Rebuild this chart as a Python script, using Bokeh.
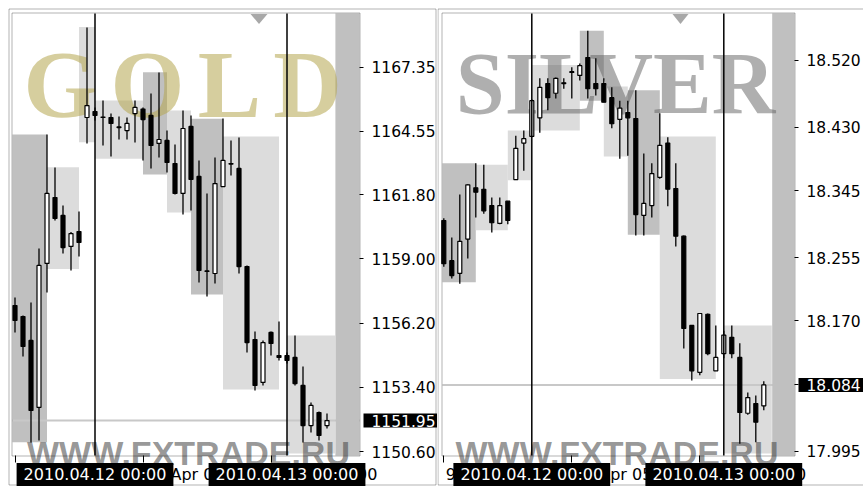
from bokeh.plotting import figure
from bokeh.layouts import row
from bokeh.models import (Range1d, LinearAxis, FixedTicker, PrintfTickFormatter,
                          Label, BoxAnnotation, PolyAnnotation, ColumnDataSource)
from bokeh.embed import file_html
from bokeh.resources import INLINE

# ---------------- GOLD, H1 bars ----------------
gold_idx = list(range(0, 40))
gold_open = [1156.96, 1156.48, 1155.44, 1152.52, 1158.80, 1161.67, 1160.89, 1159.54, 1160.19, 1165.16,
             1165.42, 1165.18, 1165.16, 1164.75, 1164.59, 1165.33, 1165.53, 1165.25, 1164.03, 1164.16,
             1163.15, 1161.85, 1164.77, 1162.59, 1158.47, 1158.36, 1162.15, 1163.15, 1162.94, 1158.66,
             1155.48, 1153.61, 1155.79, 1154.78, 1154.78, 1154.70, 1153.48, 1151.73, 1152.30, 1151.73]
gold_high = [1157.31, 1156.53, 1157.10, 1159.45, 1164.42, 1162.98, 1161.32, 1160.17, 1161.06, 1169.08,
             1165.60, 1165.90, 1165.33, 1165.20, 1165.16, 1165.90, 1165.60, 1166.21, 1167.12, 1164.59,
             1163.98, 1165.46, 1165.25, 1163.29, 1161.85, 1163.42, 1165.12, 1164.16, 1164.29, 1158.71,
             1155.83, 1155.44, 1155.83, 1156.27, 1154.92, 1155.66, 1154.31, 1152.74, 1152.34, 1152.26]
gold_low = [1155.79, 1154.74, 1150.99, 1151.08, 1157.53, 1160.67, 1159.23, 1158.49, 1159.10, 1164.03,
            1165.03, 1163.94, 1163.46, 1164.20, 1164.20, 1164.07, 1163.29, 1162.94, 1163.42, 1162.76,
            1161.80, 1160.93, 1161.11, 1157.97, 1157.36, 1157.92, 1162.15, 1162.63, 1158.36, 1154.92,
            1153.26, 1153.48, 1154.78, 1154.57, 1154.44, 1153.48, 1150.99, 1151.43, 1151.08, 1151.60]
gold_close = [1156.31, 1155.18, 1152.39, 1158.71, 1161.85, 1160.76, 1159.49, 1160.10, 1159.71, 1165.68,
              1165.25, 1165.16, 1164.90, 1164.72, 1164.90, 1165.60, 1165.07, 1163.94, 1164.20, 1163.20,
              1161.85, 1164.68, 1162.46, 1158.49, 1158.45, 1162.28, 1163.29, 1163.13, 1158.66, 1155.35,
              1153.48, 1155.35, 1155.31, 1154.70, 1154.57, 1153.56, 1151.73, 1152.61, 1151.30, 1151.95]
gold_box_x0 = [-1, 4, 8, 10, 16, 19, 22, 26, 34]
gold_box_x1 = [4, 8, 10, 16, 19, 22, 26, 33, 40]
gold_box_top = [1164.42, 1162.99, 1169.10, 1165.90, 1167.13, 1165.46, 1165.10, 1164.33, 1155.66]
gold_box_bot = [1151.00, 1158.56, 1164.08, 1163.36, 1162.67, 1161.02, 1157.44, 1153.30, 1150.51]
gold_box_dark = [1, 0, 0, 0, 1, 0, 1, 0, 0]
gold_ticks = [1150.60, 1153.40, 1156.20, 1159.00, 1161.80, 1164.55, 1167.35]
gold_last = 1151.95
gold_time_idx = [0, 16, 32]
gold_time_txt = ["9 Apr 15:00", "12 Apr 06:00", "12 Apr 22:00"]

# ---------------- SILVER, H1 bars ----------------
silver_idx = list(range(-1, 40))
silver_open = [18.305, 18.251, 18.234, 18.280, 18.349, 18.347, 18.325, 18.301, 18.331, 18.360,
               18.409, 18.418, 18.443, 18.489, 18.476, 18.490, 18.504, 18.500, 18.524, 18.489,
               18.489, 18.470, 18.441, 18.450, 18.442, 18.312, 18.325, 18.363, 18.409, 18.348,
               18.284, 18.164, 18.101, 18.179, 18.103, 18.126, 18.148, 18.121, 18.046, 18.059, 18.056]
silver_high = [18.308, 18.282, 18.340, 18.354, 18.382, 18.380, 18.336, 18.336, 18.331, 18.419,
               18.426, 18.468, 18.496, 18.496, 18.497, 18.496, 18.511, 18.516, 18.560, 18.523,
               18.496, 18.484, 18.466, 18.466, 18.480, 18.395, 18.382, 18.449, 18.417, 18.382,
               18.285, 18.164, 18.180, 18.180, 18.164, 18.157, 18.164, 18.140, 18.074, 18.070, 18.089]
silver_low = [18.243, 18.227, 18.220, 18.254, 18.309, 18.314, 18.289, 18.300, 18.300, 18.360,
              18.372, 18.417, 18.423, 18.453, 18.469, 18.482, 18.469, 18.493, 18.469, 18.473,
              18.464, 18.429, 18.388, 18.392, 18.285, 18.285, 18.309, 18.361, 18.324, 18.270,
              18.133, 18.090, 18.097, 18.124, 18.103, 18.120, 18.120, 18.005, 18.044, 18.007, 18.050]
silver_close = [18.247, 18.231, 18.277, 18.353, 18.343, 18.318, 18.302, 18.325, 18.305, 18.402,
                18.415, 18.466, 18.484, 18.470, 18.496, 18.489, 18.505, 18.513, 18.482, 18.482,
                18.464, 18.435, 18.456, 18.443, 18.313, 18.328, 18.368, 18.406, 18.347, 18.284,
                18.160, 18.103, 18.180, 18.126, 18.121, 18.151, 18.126, 18.047, 18.067, 18.034, 18.084]
silver_box_x0 = [-2, 3, 7, 10, 16, 19, 22, 26, 34]
silver_box_x1 = [3, 7, 10, 16, 19, 22, 26, 33, 40]
silver_box_top = [18.382, 18.380, 18.426, 18.514, 18.560, 18.485, 18.480, 18.418, 18.164]
silver_box_bot = [18.222, 18.292, 18.359, 18.426, 18.466, 18.391, 18.286, 18.092, 17.992]
silver_box_dark = [1, 0, 0, 0, 1, 0, 1, 0, 0]
silver_ticks = [17.995, 18.085, 18.170, 18.255, 18.345, 18.430, 18.520]
silver_last = 18.084
silver_time_idx = [-1, 15, 31]
silver_time_txt = ["9 Apr 14:00", "12 Apr 05:00", "12 Apr 21:00"]

day_idx = [10, 34]
day_txt = ["2010.04.12 00:00", "2010.04.13 00:00"]

FIG_H = 487
AXFONT = "DejaVu Sans"
SERIF = "Liberation Serif"
SANS = "Liberation Sans"


def make_panel(page_left, width, bar0_px, ref_px, ref_price, px_per_unit, area,
               idx, o, h, l, c, bx0, bx1, btop, bbot, bdark, ticks, fmt, last, last_txt,
               t_idx, t_txt, show_time, wm, tri, border_right):
    # page pixel <-> data helpers (the frame covers the whole canvas)
    def X(px):
        return (px - bar0_px) / 8.0

    def Y(py):
        return ref_price + (ref_px - py) / px_per_unit

    aL, aR, aT, aB = area   # plot-area edges in page pixels
    p = figure(width=width, height=FIG_H,
               x_range=Range1d(X(page_left), X(page_left + width)),
               y_range=Range1d(Y(FIG_H), Y(0)),
               output_backend="svg", toolbar_location=None, title=None,
               x_axis_location=None, y_axis_location=None,
               min_border_left=0, min_border_right=0, min_border_top=0, min_border_bottom=0,
               background_fill_color="white", border_fill_color="white",
               outline_line_color=None)
    p.grid.visible = False

    # price axis on the right edge of the plot area
    yax = LinearAxis(fixed_location=X(aR), ticker=FixedTicker(ticks=ticks),
                     formatter=PrintfTickFormatter(format=fmt),
                     major_tick_out=4, major_tick_in=0, minor_tick_line_color=None,
                     axis_line_color=None, major_tick_line_color="black",
                     major_label_standoff=8, major_label_text_font=AXFONT,
                     major_label_text_font_size="15.5px", major_label_text_color="black")
    p.add_layout(yax, "right")
    # time axis tick marks on the bottom edge of the plot area
    xax = LinearAxis(fixed_location=Y(aB), ticker=FixedTicker(ticks=t_idx),
                     major_label_overrides={t: "" for t in t_idx},
                     major_tick_out=7, major_tick_in=0, minor_tick_line_color=None,
                     axis_line_color=None, major_tick_line_color="black")
    p.add_layout(xax, "below")

    # period boxes
    left_lim = X(aL)
    cols = ["#c0c0c0" if d else "#dcdcdc" for d in bdark]
    p.quad(left=[max(v, left_lim) for v in bx0], right=bx1, top=btop, bottom=bbot,
           fill_color=cols, line_color=None, level="image")

    # chart shift area
    p.add_layout(BoxAnnotation(left=40.05, right=X(aR), top=Y(aT), bottom=Y(aB),
                               fill_color="#c0c0c0", fill_alpha=1.0, line_color=None,
                               level="underlay"))

    # watermarks
    for (txt, cx, base, font, size, col, alpha) in wm:
        p.add_layout(Label(x=X(cx), y=Y(base), text=txt, text_align="center",
                           text_baseline="alphabetic", text_font=font, text_font_style="bold",
                           text_font_size=size, text_color=col, text_alpha=alpha,
                           level="underlay"))

    # shift marker
    p.add_layout(PolyAnnotation(xs=[X(tri[0]), X(tri[1]), X((tri[0] + tri[1]) / 2)],
                                ys=[Y(aT + 0.5), Y(aT + 0.5), Y(aT + 10.5)],
                                fill_color="#a8a8a8", fill_alpha=1.0, line_color=None,
                                level="underlay"))

    # bid line
    p.segment(x0=[X(aL)], y0=[last], x1=[X(aR)], y1=[last], line_color="#c8c8c8",
              line_width=2, level="underlay")

    # candles
    inc = [cc >= oo for oo, cc in zip(o, c)]
    src = ColumnDataSource(dict(
        x=idx, high=h, low=l,
        top=[max(oo, cc) for oo, cc in zip(o, c)],
        bottom=[min(oo, cc) for oo, cc in zip(o, c)],
        fill=["white" if i else "black" for i in inc]))
    p.segment(x0="x", y0="low", x1="x", y1="high", source=src, line_color="black", line_width=1.3)
    p.vbar(x="x", width=0.5, top="top", bottom="bottom", source=src,
           fill_color="fill", line_color="black", line_width=1.2)

    # day separators
    p.segment(x0=day_idx, y0=[Y(aB)] * len(day_idx), x1=day_idx, y1=[Y(aT)] * len(day_idx),
              line_color="black", line_width=1.5)

    # time axis texts
    for k, (ti, tt) in enumerate(zip(t_idx, t_txt)):
        if not show_time[k]:
            continue
        p.add_layout(Label(x=ti + 0.25, y=Y(474), text=tt, text_align="left",
                           text_baseline="middle", text_font=AXFONT, text_font_size="16px",
                           text_color="black"))
    for d, tt in zip(day_idx, day_txt):
        p.add_layout(Label(x=d, y=Y(474), text=tt, text_align="center", text_baseline="middle",
                           text_font=AXFONT, text_font_size="16px", text_color="white",
                           background_fill_color="black",
                           padding=dict(left=7, right=7, top=2, bottom=2)))

    # current price box (x is the left edge of the box, text starts after the padding)
    p.add_layout(Label(x=X(aR + 4), y=last, text=last_txt, text_align="left",
                       text_baseline="middle", text_font=AXFONT, text_font_size="15.5px",
                       text_color="white", background_fill_color="black",
                       padding=dict(left=8, right=6, top=1, bottom=1)))

    # plot-area frame and window border
    p.add_layout(BoxAnnotation(left=X(aL - 0.5), right=X(aR + 0.5), top=Y(aT - 0.5),
                               bottom=Y(aB + 0.5), fill_alpha=0.0, line_color="black",
                               line_width=1, level="overlay"))
    p.add_layout(BoxAnnotation(left=X(page_left + 8.5 if page_left == 0 else page_left + 0.5),
                               right=X(border_right), top=Y(8.5), bottom=Y(484.5),
                               fill_alpha=0.0, line_color="black", line_width=1,
                               level="overlay"))
    return p


gold_wm = [("G", 60, 84, SERIF, "95px", "#b4a64f", 0.55),
           ("O", 147, 84, SERIF, "95px", "#b4a64f", 0.55),
           ("L", 229, 84, SERIF, "95px", "#b4a64f", 0.55),
           ("D", 307, 84, SERIF, "95px", "#b4a64f", 0.55),
           ("WWW.FXTRADE.RU", 188, 452, SANS, "34px", "#404040", 0.55)]
silver_wm = [("SILVER", 615, 83, SERIF, "88px", "#606060", 0.5),
             ("WWW.FXTRADE.RU", 616.5, 452, SANS, "34px", "#404040", 0.55)]

p1 = make_panel(0, 437, 14.5, 451.0, 1150.60, 22.94, (12, 359, 13, 455),
                gold_idx, gold_open, gold_high, gold_low, gold_close,
                gold_box_x0, gold_box_x1, gold_box_top, gold_box_bot, gold_box_dark,
                gold_ticks, "%.2f", gold_last, "1151.95",
                gold_time_idx, gold_time_txt, [False, True, True], gold_wm, (250, 267), 435.5)
p2 = make_panel(437, 426, 451.3, 450.7, 17.995, 744.2, (442, 794, 13, 455),
                silver_idx, silver_open, silver_high, silver_low, silver_close,
                silver_box_x0, silver_box_x1, silver_box_top, silver_box_bot, silver_box_dark,
                silver_ticks, "%.3f", silver_last, "18.084",
                silver_time_idx, silver_time_txt, [True, True, True], silver_wm, (672, 688), 880)

layout = row(p1, p2)
open("out.html", "w").write(file_html(layout, INLINE))
